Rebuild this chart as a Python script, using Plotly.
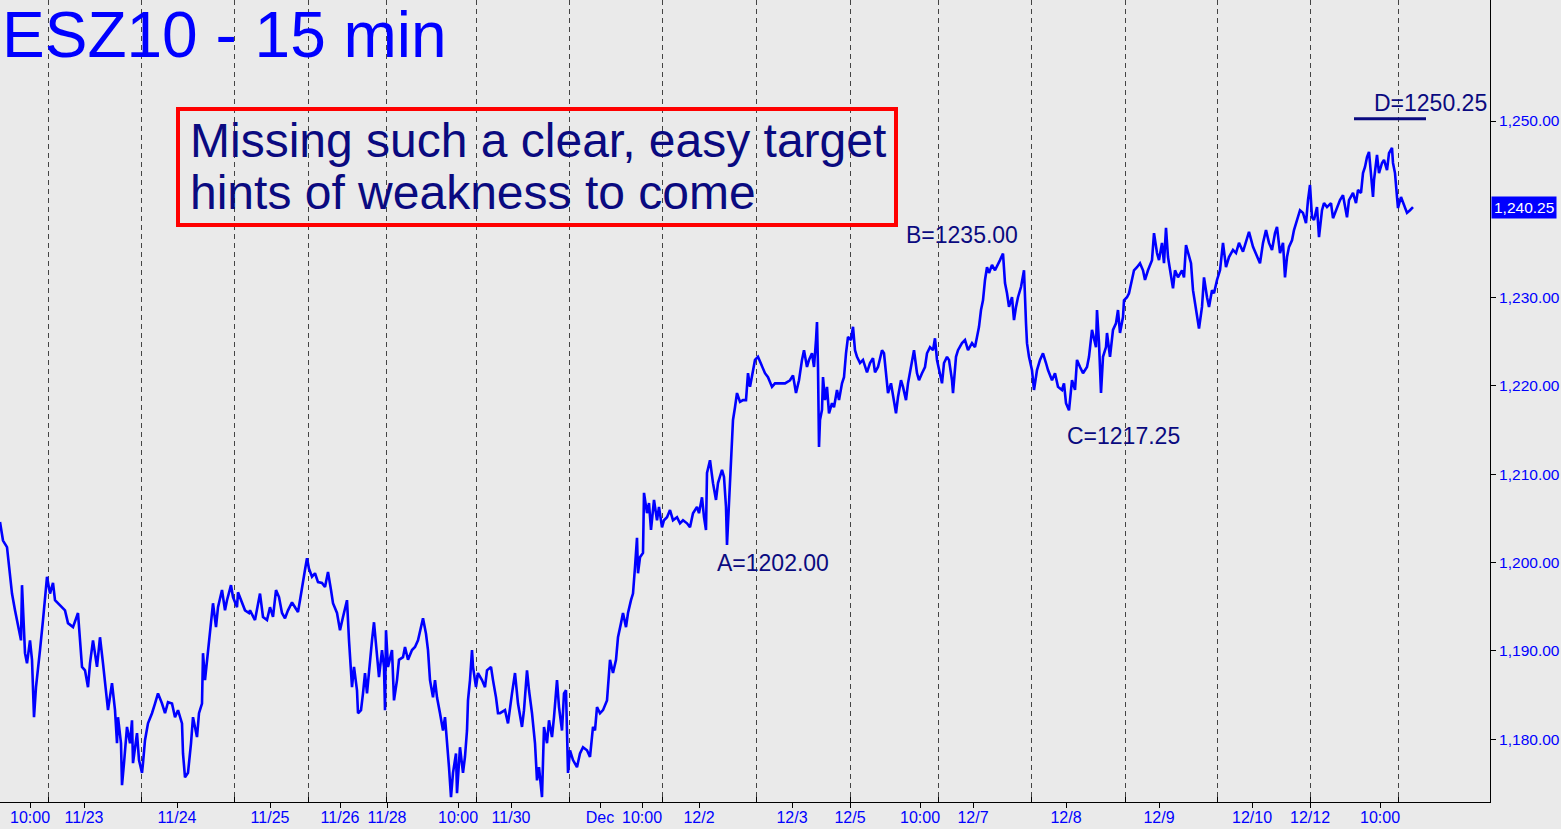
import plotly.graph_objects as go

# ---- data (bar number ~ 15-min bar index, price) ----
bar_index = [
    0, 3, 7, 8, 10, 12, 15, 18, 21, 22, 25, 27, 30, 32, 33, 34, 36, 38, 40, 43, 45, 47, 50, 53, 55, 60, 65, 68, 73, 78,
    80, 82, 85, 88, 90, 93, 97, 100, 103, 106, 108, 112, 115, 117, 118, 121, 122, 124, 127, 130, 132, 133, 137, 139,
    142, 143, 145, 148, 152, 155, 158, 162, 165, 168, 172, 175, 178, 182, 183, 185, 188, 191, 193, 197, 199, 202, 203,
    205, 208, 211, 213, 216, 218, 222, 225, 227, 231, 233, 237, 238, 242, 245, 249,
    250, 255, 258, 260, 263, 267, 270, 273, 276, 279, 282, 285, 288, 292, 295, 298, 300, 303, 305, 307, 309, 312, 315,
    318, 322, 325, 328, 331, 333, 337, 340, 343, 347, 349, 352, 354, 357, 358, 361, 363, 365, 367, 370, 372, 374, 377,
    379, 382, 384, 385, 386, 388, 392, 394, 397, 399, 403, 405, 408, 412, 415, 418, 421, 423, 426, 428, 430, 433, 435,
    437, 440, 443, 445, 447, 449, 451, 453, 456, 457, 460, 463, 465, 467, 468, 470, 472, 473, 476, 478, 482, 485, 487,
    491, 493, 496, 498,
    500, 505, 508, 512, 515, 518, 522, 524, 527, 529, 532, 535, 537, 539, 542, 544, 547, 549, 552, 554, 557, 559, 562,
    564, 566, 568, 570, 573, 577, 580, 583, 587, 590, 593, 595, 597, 600, 603, 607, 610, 613, 616, 618, 621, 623, 626,
    628, 631, 633, 635, 637, 638, 640, 643, 644, 647, 649, 651, 654, 657, 659, 662, 664, 667, 670, 673, 677, 680, 683,
    687, 690, 693, 697, 699, 702, 704, 706, 707, 710, 713, 716, 718, 722, 724, 726, 727, 729, 731, 733, 735, 737, 740,
    743, 746, 748,
    750, 755, 758, 762, 765, 768, 772, 775, 780, 785, 790, 793, 796, 799, 802, 804, 807, 809, 812, 814, 816, 817, 818,
    819, 820, 822, 823, 825, 827, 829, 832, 834, 837, 839, 842, 844, 846, 848, 851, 853, 855, 857, 860, 863, 867, 870,
    873, 875, 878, 882, 884, 886, 888, 891, 893, 896, 898, 901, 903, 906, 908, 911, 913, 914, 917, 919, 922, 925, 927,
    930, 933, 935, 937, 939, 942, 944, 947, 949, 952, 953, 956, 958, 962, 965, 968, 972, 975, 977, 979, 981, 983, 985,
    987, 989, 992, 995, 998,
    1000, 1003, 1005, 1007, 1009, 1012, 1014, 1016, 1018, 1021, 1023, 1024, 1026, 1027, 1029, 1032, 1034, 1037, 1040,
    1043, 1046, 1048, 1052, 1055, 1058, 1062, 1064, 1066, 1069, 1072, 1075, 1077, 1080, 1083, 1087, 1089, 1092, 1094,
    1096, 1097, 1099, 1101, 1103, 1106, 1107, 1110, 1113, 1116, 1118, 1120, 1123, 1124, 1127, 1129, 1132, 1134, 1137,
    1140, 1143, 1145, 1148, 1152, 1154, 1157, 1159, 1162, 1164, 1166, 1168, 1171, 1173, 1175, 1178, 1182, 1184, 1186,
    1188, 1191, 1193, 1195, 1197, 1199, 1202, 1204, 1207, 1209, 1212, 1214, 1217, 1220, 1223, 1226, 1229, 1233, 1236,
    1239, 1243, 1246, 1249, 1253, 1257, 1260, 1263, 1266, 1269, 1272, 1275, 1277, 1280, 1283, 1285, 1287, 1289, 1292,
    1294, 1297, 1300, 1303, 1306, 1308, 1310, 1312, 1314, 1317, 1319, 1322, 1324, 1327, 1331, 1333, 1337, 1340, 1343,
    1347, 1349, 1353, 1356, 1358, 1361, 1363, 1365, 1367, 1369, 1371, 1373, 1374, 1377, 1379, 1382, 1384, 1387, 1389,
    1392, 1393, 1395, 1397, 1398, 1401, 1403, 1407, 1410, 1413,
]

price = [
    1204.6, 1202.5, 1201.75, 1200.6, 1198.8, 1196.5, 1194.6, 1192.7, 1191.2, 1197.45, 1189.75, 1188.6, 1191.2, 1189.0,
    1184.4, 1182.5, 1185.9, 1187.8, 1190.1, 1193.5, 1196.5, 1198.4, 1196.5, 1197.7, 1195.75, 1195.2, 1194.6, 1193.15,
    1192.7, 1194.3, 1190.9, 1188.2, 1187.8, 1185.9, 1188.6, 1191.2, 1188.2, 1191.55, 1188.6, 1185.55, 1183.3, 1186.35,
    1183.3, 1179.55, 1182.5, 1179.55, 1174.8, 1177.3, 1181.4, 1179.55, 1182.15, 1177.3, 1180.7, 1177.65, 1176.2, 1177.3,
    1179.9, 1181.8, 1182.95, 1184.05, 1185.2, 1184.05, 1182.95, 1184.2, 1184.05, 1182.5, 1183.3, 1181.8, 1178.4, 1175.7,
    1176.2, 1179.55, 1182.5, 1180.25, 1182.95, 1184.05, 1189.75, 1186.7, 1190.1, 1193.85, 1195.4, 1192.7, 1194.95,
    1196.9, 1194.6, 1195.75, 1197.45, 1196.1, 1194.95, 1196.65, 1195.4, 1194.6, 1194.3,
    1194.6, 1193.5, 1195.4, 1196.5, 1193.85, 1193.5, 1194.95, 1193.85, 1196.9, 1196.1, 1194.3, 1193.7, 1194.6, 1195.5,
    1194.95, 1194.4, 1195.75, 1198.05, 1199.2, 1200.5, 1199.3, 1198.4, 1198.8, 1197.8, 1197.7, 1197.25, 1198.95,
    1196.9, 1195.4, 1194.3, 1192.35, 1193.85, 1195.75, 1191.2, 1185.9, 1188.2, 1185.55, 1182.95, 1183.3, 1185.2,
    1187.5, 1185.2, 1189.3, 1191.2, 1193.25, 1189.3, 1187.05, 1190.1, 1188.2, 1183.3, 1192.35, 1188.2, 1190.1, 1184.4,
    1186.7, 1189.0, 1189.3, 1190.45, 1189.0, 1190.1, 1190.45, 1191.2, 1192.7, 1193.7, 1191.95, 1190.1, 1186.7,
    1184.75, 1186.7, 1184.75, 1182.95, 1181.0, 1182.5, 1179.9, 1176.85, 1173.45, 1176.2, 1178.4, 1173.9, 1179.1,
    1176.2, 1178.05, 1181.0, 1184.4, 1186.7, 1190.1, 1188.2, 1185.9, 1187.5, 1186.7, 1185.9, 1187.8, 1188.2, 1186.7,
    1184.75, 1182.95,
    1182.95, 1183.3, 1181.8, 1185.2, 1187.5, 1184.05, 1181.4, 1183.3, 1187.8, 1185.55, 1182.95, 1179.55, 1175.35,
    1176.85, 1173.45, 1181.4, 1179.55, 1182.15, 1180.25, 1182.5, 1186.7, 1183.65, 1181.0, 1185.2, 1185.55, 1176.2,
    1178.75, 1177.65, 1176.85, 1178.4, 1179.1, 1178.75, 1178.0, 1181.4, 1181.0, 1183.65, 1182.95, 1183.3, 1184.4,
    1189.0, 1187.5, 1189.0, 1191.55, 1193.15, 1194.3, 1192.7, 1194.3, 1195.75, 1196.5, 1199.5, 1202.8, 1198.8, 1200.6,
    1201.1, 1207.9, 1205.6, 1206.75, 1203.7, 1207.1, 1204.8, 1206.3, 1204.0, 1204.8, 1205.15, 1205.95, 1204.8,
    1205.15, 1204.45, 1204.8, 1204.45, 1204.0, 1205.6, 1206.3, 1205.6, 1207.4, 1205.15, 1203.7, 1210.15, 1211.6,
    1209.0, 1207.1, 1209.0, 1210.5, 1209.7, 1206.3, 1202.0, 1207.1, 1212.7, 1216.15, 1217.6, 1219.2, 1218.2, 1218.4,
    1218.4, 1221.45,
    1219.9, 1222.95, 1223.3, 1222.15, 1221.45, 1221.0, 1219.9, 1220.3, 1220.3, 1220.3, 1220.65, 1221.2, 1219.2,
    1220.65, 1222.95, 1224.05, 1222.15, 1222.95, 1223.7, 1222.15, 1225.2, 1227.25, 1222.15, 1213.1, 1216.15, 1217.3,
    1221.0, 1218.4, 1219.9, 1216.9, 1218.05, 1217.6, 1219.55, 1218.4, 1220.3, 1221.0, 1223.7, 1225.55, 1225.2, 1226.7,
    1224.05, 1223.3, 1222.6, 1222.95, 1221.55, 1222.6, 1223.15, 1221.55, 1222.15, 1224.05, 1223.7, 1221.0, 1219.2,
    1220.3, 1218.75, 1216.9, 1218.75, 1220.65, 1219.9, 1218.4, 1220.3, 1222.15, 1223.3, 1224.05, 1221.45, 1220.65,
    1221.45, 1222.15, 1223.7, 1224.4, 1224.05, 1225.4, 1222.95, 1221.8, 1220.3, 1222.6, 1223.3, 1222.95, 1220.65,
    1219.2, 1223.3, 1224.05, 1224.85, 1225.2, 1224.05, 1224.85, 1224.4, 1225.55, 1226.7, 1228.6, 1229.7, 1232.0,
    1233.45, 1232.8, 1233.7, 1233.1, 1233.9,
    1234.25, 1235.0, 1231.65, 1230.5, 1228.95, 1230.05, 1227.45, 1228.95, 1230.05, 1231.2, 1232.3, 1233.1, 1227.1,
    1224.85, 1223.3, 1221.8, 1219.55, 1221.8, 1222.95, 1223.7, 1222.6, 1221.8, 1220.65, 1221.45, 1219.9, 1219.55,
    1220.3, 1218.05, 1217.25, 1220.65, 1219.55, 1222.95, 1222.15, 1221.45, 1222.15, 1223.3, 1226.35, 1225.2, 1224.4,
    1228.6, 1224.85, 1219.2, 1223.3, 1224.4, 1226.0, 1223.3, 1226.35, 1227.1, 1228.6, 1226.0, 1227.8, 1229.7, 1230.05,
    1230.5, 1232.3, 1233.1, 1233.45, 1233.9, 1233.1, 1232.0, 1233.1, 1234.25, 1237.3, 1235.05, 1234.25, 1236.2,
    1233.9, 1237.9, 1234.6, 1232.3, 1231.05, 1233.1, 1232.3, 1233.1, 1232.3, 1235.95, 1235.05, 1233.9, 1230.85,
    1229.4, 1227.45, 1226.5, 1228.95, 1232.3, 1230.05, 1228.95, 1230.85, 1230.5, 1232.0, 1233.1, 1236.2, 1233.45,
    1234.6, 1235.4, 1235.05, 1236.2, 1235.2, 1236.2, 1237.45, 1235.75, 1234.6, 1233.9, 1236.2, 1237.65, 1236.2,
    1235.4, 1237.3, 1238.0, 1235.05, 1236.2, 1232.3, 1234.6, 1235.75, 1236.5, 1237.65, 1238.8, 1239.9, 1239.6,
    1238.45, 1241.05, 1242.75, 1239.1, 1238.8, 1240.25, 1236.85, 1239.9, 1240.7, 1240.25, 1240.7, 1239.0, 1240.25,
    1241.05, 1241.6, 1239.1, 1241.05, 1241.85, 1240.7, 1242.2, 1241.85, 1244.1, 1244.8, 1245.9, 1246.5, 1244.1,
    1241.4, 1243.3, 1246.15, 1244.1, 1245.25, 1245.6, 1244.45, 1246.35, 1246.95, 1245.25, 1244.1, 1241.4, 1240.15,
    1241.4, 1240.8, 1239.6, 1239.9, 1240.25,
]

# session separators (bar numbers) and x labels
session_breaks = [48, 141, 234, 308, 386, 476, 569, 662, 756, 850, 938, 1031, 1125, 1217, 1310, 1398]
x_label_bars = [30, 84, 177, 270, 340, 387, 458, 511, 600, 642, 699, 792, 850, 920, 973, 1066, 1159, 1252, 1310, 1380]
x_labels = ["10:00", "11/23", "11/24", "11/25", "11/26", "11/28", "10:00", "11/30", "Dec", "10:00", "12/2",
            "12/3", "12/5", "10:00", "12/7", "12/8", "12/9", "12/10", "12/12", "10:00"]
# 1,240.00 is covered by the last-price tag in the reference
y_ticks = [1180, 1190, 1200, 1210, 1220, 1230, 1250]

title_text = "ESZ10 - 15 min"
callout_lines = ["Missing such a clear, easy target", "hints of weakness to come"]
pivots = {"A": 1202.00, "B": 1235.00, "C": 1217.25, "D": 1250.25}
last_price = 1240.25

BG = "#EAEAEA"
BLUE = "#0000FF"
NAVY = "#0A0A80"
FONT = "Liberation Sans, Arial, sans-serif"

X_RANGE = [0, 1490]
Y_RANGE = [1172.9, 1263.7]

fig = go.Figure()
fig.add_trace(go.Scatter(x=bar_index, y=price, mode="lines",
                         line=dict(color=BLUE, width=2.6), hoverinfo="skip", showlegend=False))
# helper trace to activate the separator axis
fig.add_trace(go.Scatter(x=bar_index[:1], y=price[:1], mode="markers", marker=dict(opacity=0),
                         xaxis="x2", hoverinfo="skip", showlegend=False))

fig.update_layout(
    width=1561, height=829,
    margin=dict(l=0, r=71, t=0, b=27),
    paper_bgcolor=BG, plot_bgcolor=BG,
    font=dict(family=FONT, color=BLUE),
    xaxis=dict(range=X_RANGE, tickmode="array", tickvals=x_label_bars, ticktext=x_labels,
               showgrid=False, zeroline=False, showline=True, linecolor="black", linewidth=1,
               ticks="outside", ticklen=5, tickcolor="black", ticklabelstandoff=-4,
               tickfont=dict(size=16, color=BLUE, family=FONT)),
    xaxis2=dict(range=X_RANGE, overlaying="x", side="bottom", tickmode="array", tickvals=session_breaks,
                showticklabels=False, showgrid=True, gridcolor="#444444", gridwidth=1, griddash="5px,4px",
                zeroline=False, showline=False, ticks="inside", ticklen=5, tickcolor="black"),
    yaxis=dict(range=Y_RANGE, side="right", tickmode="array", tickvals=y_ticks, tickformat=",.2f",
               showgrid=False, zeroline=False, showline=True, linecolor="black", linewidth=1,
               ticks="outside", ticklen=5, tickcolor="black",
               tickfont=dict(size=15.5, color=BLUE, family=FONT)),
)

# title
fig.add_annotation(text=title_text, xref="paper", yref="paper", x=0.0, y=1 - 35 / 802,
                   xanchor="left", yanchor="middle", showarrow=False,
                   font=dict(size=64, color=BLUE, family=FONT))

# callout box
fig.add_shape(type="rect", xref="paper", yref="paper",
              x0=178 / 1490, x1=896 / 1490, y0=1 - 225 / 802, y1=1 - 109 / 802,
              line=dict(color="#FF0000", width=4), fillcolor="rgba(0,0,0,0)")
for i, line_txt in enumerate(callout_lines):
    fig.add_annotation(text=line_txt, xref="paper", yref="paper", x=188 / 1490, y=1 - (140 + 53 * i) / 802,
                       xanchor="left", yanchor="middle", showarrow=False,
                       font=dict(size=48, color=NAVY, family=FONT))

# pivot labels
label_pos = {"A": (773, 1199.95), "B": (962, 1237.1), "C": (1123, 1214.3), "D": (1430, 1252.0)}
for k, v in pivots.items():
    lx, ly = label_pos[k]
    fig.add_annotation(text=f"{k}={v:.2f}", x=lx, y=ly, xref="x", yref="y", showarrow=False,
                       xanchor="center", yanchor="middle", font=dict(size=23, color=NAVY, family=FONT))

# D target line
fig.add_shape(type="line", xref="x", yref="y", x0=1354, x1=1426, y0=pivots["D"], y1=pivots["D"],
              line=dict(color=NAVY, width=3))

# last price tag
fig.add_annotation(text=f"{last_price:,.2f}", xref="paper", yref="y", x=1.0, y=last_price,
                   xanchor="left", yanchor="middle", showarrow=False, xshift=1,
                   bgcolor=BLUE, borderpad=2, font=dict(size=15.5, color="white", family=FONT))

fig.write_html("out.html", config={"displayModeBar": False},
               post_script="document.body.style.margin='0';document.body.style.overflow='hidden';")
